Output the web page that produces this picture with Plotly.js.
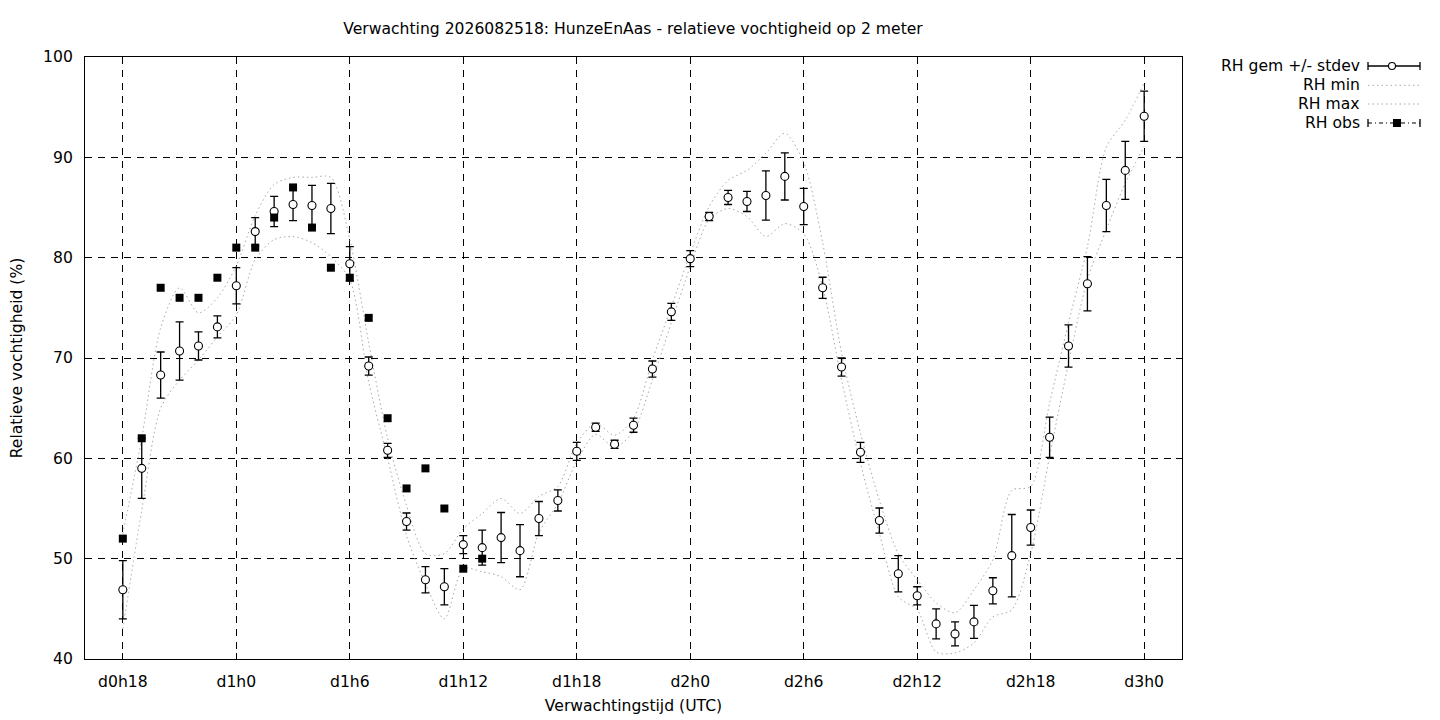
<!DOCTYPE html>
<html>
<head>
<meta charset="utf-8">
<script src="https://cdn.plot.ly/plotly-3.0.1.min.js"></script>
<style>html,body{margin:0;padding:0;background:#fff;}#chart{width:1440px;height:720px;}</style>
</head>
<body>
<div id="chart"></div>
<script>
// forecast hours (hours since d0h0)
const hours = [18,19,20,21,22,23,24,25,26,27,28,29,30,31,32,33,34,35,36,37,38,39,40,41,42,43,44,45,
  46,47,48,49,50,51,52,53,54,55,56,57,58,59,60,61,62,63,64,65,66,67,68,69,70,71,72];
// ensemble mean RH
const rhMean = [46.9,59.0,68.3,70.7,71.2,73.1,77.2,82.6,84.6,85.3,85.2,84.9,79.4,69.2,60.8,53.7,47.9,47.2,51.4,51.1,
  52.1,50.8,54.0,55.8,60.7,63.1,61.4,63.3,68.9,74.6,79.9,84.1,86.0,85.6,86.2,88.1,85.1,77.0,69.1,60.6,
  53.8,48.5,46.3,43.5,42.5,43.7,46.8,50.3,53.1,62.1,71.2,77.4,85.2,88.7,94.1];
// ensemble standard deviation
const rhStd = [2.9,3.0,2.3,2.9,1.4,1.1,1.8,1.4,1.5,1.6,2.0,2.5,1.7,0.9,0.7,0.85,1.3,1.8,0.9,1.75,
  2.5,2.6,1.7,1.05,0.9,0.4,0.4,0.7,0.8,0.85,0.8,0.4,0.7,1.0,2.45,2.35,1.8,1.05,0.9,1.0,
  1.25,1.8,0.9,1.5,1.2,1.65,1.3,4.1,1.75,2.0,2.1,2.7,2.6,2.9,2.5];
// ensemble minimum
const rhMin = [43.0,54.8,65.0,67.8,69.8,72.1,74.3,79.8,81.8,82.1,81.5,80.1,77.8,67.6,60.0,52.3,47.5,44.0,49.0,48.7,
  48.2,46.9,52.6,55.5,59.7,62.4,61.1,62.7,67.8,73.5,79.1,83.8,84.9,84.1,82.1,83.4,82.4,77.1,67.8,59.5,
  52.5,46.2,44.9,40.7,40.6,41.6,44.2,44.9,50.5,60.2,69.5,77.8,82.8,87.4,91.1];
// ensemble maximum
const rhMax = [52.5,62.0,73.0,77.0,74.5,76.0,79.2,84.2,87.3,88.0,88.0,88.0,81.8,71.5,62.0,55.3,50.5,50.5,53.0,54.5,
  56.0,54.5,56.2,57.2,61.5,63.5,62.3,64.0,69.8,75.1,80.4,85.1,87.7,88.7,90.4,92.4,89.5,81.5,70.5,62.5,
  55.8,50.5,47.9,45.6,44.6,46.9,49.9,56.8,57.2,65.5,73.5,81.1,91.0,93.7,97.4];
// observations
const obsHours = [18,19,20,21,22,23,24,25,26,27,28,29,30,31,32,33,34,35,36,37];
const rhObs = [52,62,77,76,76,78,81,81,84,87,83,79,78,74,64,57,59,55,49,50];
// axis ticks
const tickHours = [18,24,30,36,42,48,54,60,66,72];
const tickLabels = ["d0h18","d1h0","d1h6","d1h12","d1h18","d2h0","d2h6","d2h12","d2h18","d3h0"];
const yTicks = [40,50,60,70,80,90,100];
const legendNames = ["RH gem +/- stdev","RH min","RH max","RH obs"];

const FONT = "DejaVu Sans, sans-serif";
const FS = 15.6;
const GRAY = "#a8a8a8";
const DOTS = "1.5px,3px";

const traces = [
  {x: hours, y: rhMin, mode: "lines", name: legendNames[1], showlegend: false,
   line: {color: GRAY, width: 1, dash: DOTS, shape: "spline", smoothing: 0.8}, hoverinfo: "skip"},
  {x: hours, y: rhMax, mode: "lines", name: legendNames[2], showlegend: false,
   line: {color: GRAY, width: 1, dash: DOTS, shape: "spline", smoothing: 0.8}, hoverinfo: "skip"},
  {x: hours, y: rhMean, mode: "markers", name: legendNames[0], showlegend: false,
   error_y: {type: "data", array: rhStd, visible: true, color: "#000", thickness: 1.3, width: 4},
   marker: {symbol: "circle", size: 8, color: "#fff", line: {color: "#000", width: 1.1}}},
  {x: obsHours, y: rhObs, mode: "markers", name: legendNames[3], showlegend: false,
   marker: {symbol: "square", size: 8, color: "#000", line: {color: "#000", width: 0}}}
];

// plot area in pixels: x 85..1182, y 57..659
const L = 85, R = 1182, T = 57, B = 659;
const px = v => (v - L) / (R - L);
const py = v => (B - v) / (B - T);

const legendRows = [66, 85.3, 104, 123];
const sx0 = 1368, sx1 = 1420;
const shapes = [];
const annotations = [];
legendRows.forEach((ry, i) => {
  annotations.push({xref: "paper", yref: "paper", x: px(1362), y: py(ry), xanchor: "right", yanchor: "middle",
    text: legendNames[i], showarrow: false, font: {family: FONT, size: FS, color: "#000"}});
});
// row 1: error-bar sample with open circle
shapes.push({type: "line", xref: "paper", yref: "paper", x0: px(sx0), x1: px(sx1), y0: py(legendRows[0]), y1: py(legendRows[0]), line: {color: "#000", width: 1.3}});
[sx0, sx1].forEach(xx => shapes.push({type: "line", xref: "paper", yref: "paper", x0: px(xx), x1: px(xx), y0: py(legendRows[0] - 4), y1: py(legendRows[0] + 4), line: {color: "#000", width: 1.3}}));
shapes.push({type: "circle", xref: "paper", yref: "paper", xsizemode: "pixel", ysizemode: "pixel",
  xanchor: px(1392), yanchor: py(legendRows[0]), x0: -3.5, x1: 3.5, y0: -3.5, y1: 3.5, fillcolor: "#fff", line: {color: "#000", width: 1.1}});
// rows 2,3: dotted gray
[1, 2].forEach(i => shapes.push({type: "line", xref: "paper", yref: "paper", x0: px(sx0), x1: px(sx1), y0: py(legendRows[i]), y1: py(legendRows[i]), line: {color: GRAY, width: 1, dash: DOTS}}));
// row 4: dash-dot with caps and filled square
shapes.push({type: "line", xref: "paper", yref: "paper", x0: px(sx0), x1: px(sx1), y0: py(legendRows[3]), y1: py(legendRows[3]), line: {color: "#000", width: 1.2, dash: "4px,3px,1px,3px"}});
[sx0, sx1].forEach(xx => shapes.push({type: "line", xref: "paper", yref: "paper", x0: px(xx), x1: px(xx), y0: py(legendRows[3] - 4), y1: py(legendRows[3] + 4), line: {color: "#000", width: 1.3}}));
shapes.push({type: "rect", xref: "paper", yref: "paper", xsizemode: "pixel", ysizemode: "pixel",
  xanchor: px(1397), yanchor: py(legendRows[3]), x0: -4, x1: 4, y0: -4, y1: 4, fillcolor: "#000", line: {color: "#000", width: 0}});

const axisCommon = {
  showline: true, mirror: "ticks", linecolor: "#000", linewidth: 1,
  ticks: "inside", ticklen: 6, tickcolor: "#000", tickwidth: 1,
  showgrid: true, gridcolor: "#000", gridwidth: 1, griddash: "7px,6px",
  zeroline: false, tickfont: {family: FONT, size: FS, color: "#000"}
};

const layout = {
  width: 1440, height: 720,
  paper_bgcolor: "#fff", plot_bgcolor: "#fff",
  margin: {l: L, r: 1440 - R, t: T, b: 720 - B, autoexpand: false},
  showlegend: false,
  title: {text: "Verwachting 2026082518: HunzeEnAas - relatieve vochtigheid op 2 meter",
    x: px(633), xref: "paper", y: 1 - 29 / 720, yref: "container", xanchor: "center", yanchor: "middle",
    font: {family: FONT, size: FS, color: "#000"}},
  xaxis: Object.assign({}, axisCommon, {
    range: [16, 74], tickvals: tickHours, ticktext: tickLabels, ticklabelstandoff: 8,
    title: {text: "Verwachtingstijd (UTC)", standoff: 10, font: {family: FONT, size: FS, color: "#000"}},
    automargin: false
  }),
  yaxis: Object.assign({}, axisCommon, {
    range: [40, 100], tickvals: yTicks, ticklabelstandoff: 8,
    title: {text: "Relatieve vochtigheid (%)", standoff: 16, font: {family: FONT, size: FS, color: "#000"}},
    automargin: false
  }),
  shapes: shapes,
  annotations: annotations
};

Plotly.newPlot("chart", traces, layout, {displayModeBar: false, staticPlot: true});
</script>
</body>
</html>
